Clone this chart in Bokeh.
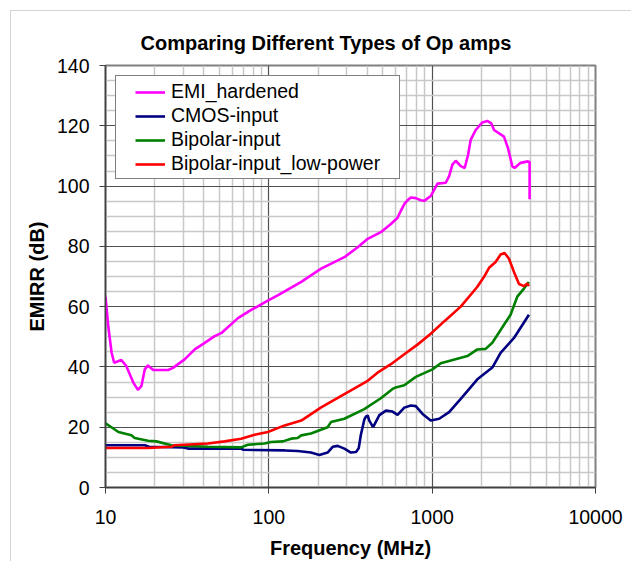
from bokeh.plotting import figure
from bokeh.models import Range1d, FixedTicker, PrintfTickFormatter, Legend, LegendItem, Title
from bokeh.embed import file_html
from bokeh.resources import INLINE

# ---- data ----
emi_f = [10, 10.4, 10.9, 11.3, 12.5, 13.4, 14.8, 15.8, 16.6, 17.4, 18.2, 19.6, 24.2, 25.9, 30.5,
         35.2, 40.5, 46.6, 51.1, 64.7, 78.0, 98.6, 114, 158, 209, 290, 350, 403, 485, 559, 614,
         643, 675, 707, 740, 794, 852, 894, 980, 1078, 1211, 1270, 1330, 1394, 1496, 1582, 1659,
         1721, 1847, 2029, 2177, 2302, 2392, 2753, 2912, 3094, 3196, 3478, 3858, 3950, 3950]
emi_db = [63.3, 53.4, 44.7, 41.4, 42.3, 40.3, 34.8, 32.4, 33.7, 39.2, 40.5, 39.0, 39.0, 39.7, 42.5,
          45.8, 48.0, 50.2, 51.2, 56.2, 58.9, 62.0, 63.8, 68.2, 72.6, 76.4, 79.7, 82.5, 84.7, 87.4, 89.5,
          91.8, 94.0, 95.3, 96.2, 96.0, 95.3, 95.1, 96.7, 100.8, 101.1, 103.3, 107.1, 108.4, 106.6, 106.0, 110.4,
          115.3, 118.6, 121.1, 121.6, 120.8, 118.6, 116.4, 112.6, 106.6, 106.0, 107.7, 108.2, 108.0, 95.6]

cmos_f = [10, 17.4, 18.5, 30, 32, 67, 70, 125, 150, 181, 204, 229, 246, 264, 290, 318, 342, 355,
          366, 384, 393, 403, 412, 435, 475, 521, 572, 614, 675, 740, 794, 873, 980, 1104, 1270,
          1496, 1891, 2335, 2624, 3169, 3913]
cmos_db = [14.0, 14.0, 13.5, 13.3, 12.9, 12.9, 12.5, 12.3, 12.1, 11.6, 10.8, 11.6, 13.5, 13.8, 12.9,
           11.6, 11.8, 13.0, 17.5, 22.5, 23.5, 23.9, 22.2, 20.0, 24.0, 25.5, 25.2, 24.1, 26.5, 27.2,
           27.0, 24.4, 22.2, 22.8, 25.0, 29.4, 35.9, 39.8, 44.7, 49.6, 57.3]

bip_f = [10, 12.0, 14.4, 15.1, 18.2, 20.5, 25.3, 42.4, 67.7, 74.4, 94.1, 103, 122, 137, 150, 158,
         181, 229, 240, 290, 384, 485, 572, 599, 675, 794, 1004, 1129, 1643, 1891, 2125, 2335,
         2753, 3020, 3319, 3648, 3913]
bip_db = [21.3, 18.4, 17.3, 16.4, 15.5, 15.3, 14.0, 13.5, 13.3, 14.2, 14.6, 15.1, 15.3, 16.2, 16.4,
          17.3, 17.9, 20.0, 21.7, 22.8, 26.0, 29.6, 32.7, 33.2, 33.9, 36.7, 39.2, 41.2, 43.6, 45.8,
          46.0, 48.0, 54.0, 57.3, 63.3, 66.0, 68.2]

lp_f = [10, 18.2, 25.3, 26.5, 42.4, 53.6, 67.7, 81.8, 98.6, 125, 158, 209, 290, 403, 463, 559,
        675, 813, 980, 1184, 1496, 1891, 2078, 2230, 2446, 2624, 2776, 2953, 3169, 3400, 3648,
        3820, 3913]
lp_db = [13.1, 13.1, 13.5, 14.0, 14.6, 15.3, 16.2, 17.5, 18.4, 20.6, 22.2, 26.6, 31.0, 35.4, 38.1,
         40.9, 44.2, 47.4, 51.0, 55.1, 60.0, 66.6, 69.9, 72.9, 74.8, 77.3, 77.8, 75.9, 71.5, 67.5,
         66.8, 67.7, 66.8]

series_names = ["EMI_hardened", "CMOS-input", "Bipolar-input", "Bipolar-input_low-power"]
series_colors = ["#FF00FF", "#000080", "#008000", "#FF0000"]

x_ticks = [10, 100, 1000, 10000]
y_ticks = [0, 20, 40, 60, 80, 100, 120, 140]

title_text = "Comparing Different Types of Op amps"
x_label = "Frequency (MHz)"
y_label = "EMIRR (dB)"

FONT = "Liberation Sans"

p = figure(width=631, height=561, x_axis_type="log",
           x_range=Range1d(10, 10000), y_range=Range1d(0, 140),
           output_backend="svg", toolbar_location=None,
           min_border_left=105, min_border_top=65, min_border_right=36, min_border_bottom=70)

# light outer chart frame (top and left edges), painted behind a transparent border area
p.border_fill_alpha = 0
p.styles = {
    "background-color": "white",
    "background-image": "linear-gradient(#d4d4d4, #d4d4d4), linear-gradient(#d4d4d4, #d4d4d4)",
    "background-size": "100% 1px, 1px 100%",
    "background-position": "10px 10px, 10px 10px",
    "background-repeat": "no-repeat",
}

t = Title(text=title_text, align="left", offset=35, standoff=23,
          text_font=FONT, text_font_size="20px", text_font_style="bold", text_color="black")
p.add_layout(t, "above")

x_minor = [m * 10 ** k for k in range(1, 4) for m in range(2, 10)]
y_minor = [v for v in range(0, 141, 5) if v % 20 != 0]
p.xaxis.ticker = FixedTicker(ticks=x_ticks, minor_ticks=x_minor)
p.yaxis.ticker = FixedTicker(ticks=y_ticks, minor_ticks=y_minor)
p.xaxis.formatter = PrintfTickFormatter(format="%d")
p.yaxis.formatter = PrintfTickFormatter(format="%d")

for ax in (p.xaxis, p.yaxis):
    ax.major_label_text_font = FONT
    ax.major_label_text_font_size = "19.5px"
    ax.major_label_text_color = "black"
    ax.axis_label_text_font = FONT
    ax.axis_label_text_font_size = "20px"
    ax.axis_label_text_font_style = "bold"
    ax.axis_label_text_color = "black"
    ax.major_tick_in = 0
    ax.major_tick_out = 6
    ax.minor_tick_in = 0
    ax.minor_tick_out = 0
    ax.axis_line_color = "#404040"
    ax.axis_line_width = 1.5
    ax.major_tick_line_color = "#404040"
p.xaxis.axis_label = x_label
p.yaxis.axis_label = y_label
p.xaxis.major_label_standoff = 16
p.xaxis.axis_label_standoff = 10
p.yaxis.major_label_standoff = 10
p.yaxis.axis_label_standoff = 6

for g in (p.xgrid, p.ygrid):
    g.grid_line_color = "#505050"
    g.grid_line_width = 1.2
    g.minor_grid_line_color = "#c8c8c8"
    g.minor_grid_line_width = 1.5

p.outline_line_color = "#808080"
p.outline_line_width = 2
p.background_fill_color = "white"

data = [(emi_f, emi_db), (cmos_f, cmos_db), (bip_f, bip_db), (lp_f, lp_db)]
items = []
for (fx, dy), name, col in zip(data, series_names, series_colors):
    r = p.line(fx, dy, line_color=col, line_width=2.6)
    items.append(LegendItem(label=name, renderers=[r]))

legend = Legend(items=items, location="top_left", margin=10,
                label_text_font=FONT, label_text_font_size="19.5px", label_text_color="black",
                glyph_width=30, glyph_height=20, label_height=20, label_standoff=6, spacing=1,
                border_line_color="black", border_line_width=1,
                background_fill_color="white", background_fill_alpha=1.0)
try:
    legend.padding = {"left": 19, "right": 19, "top": 4, "bottom": 3}
except Exception:
    legend.padding = 6
p.add_layout(legend, "center")

open("out.html", "w").write(file_html(p, INLINE))
